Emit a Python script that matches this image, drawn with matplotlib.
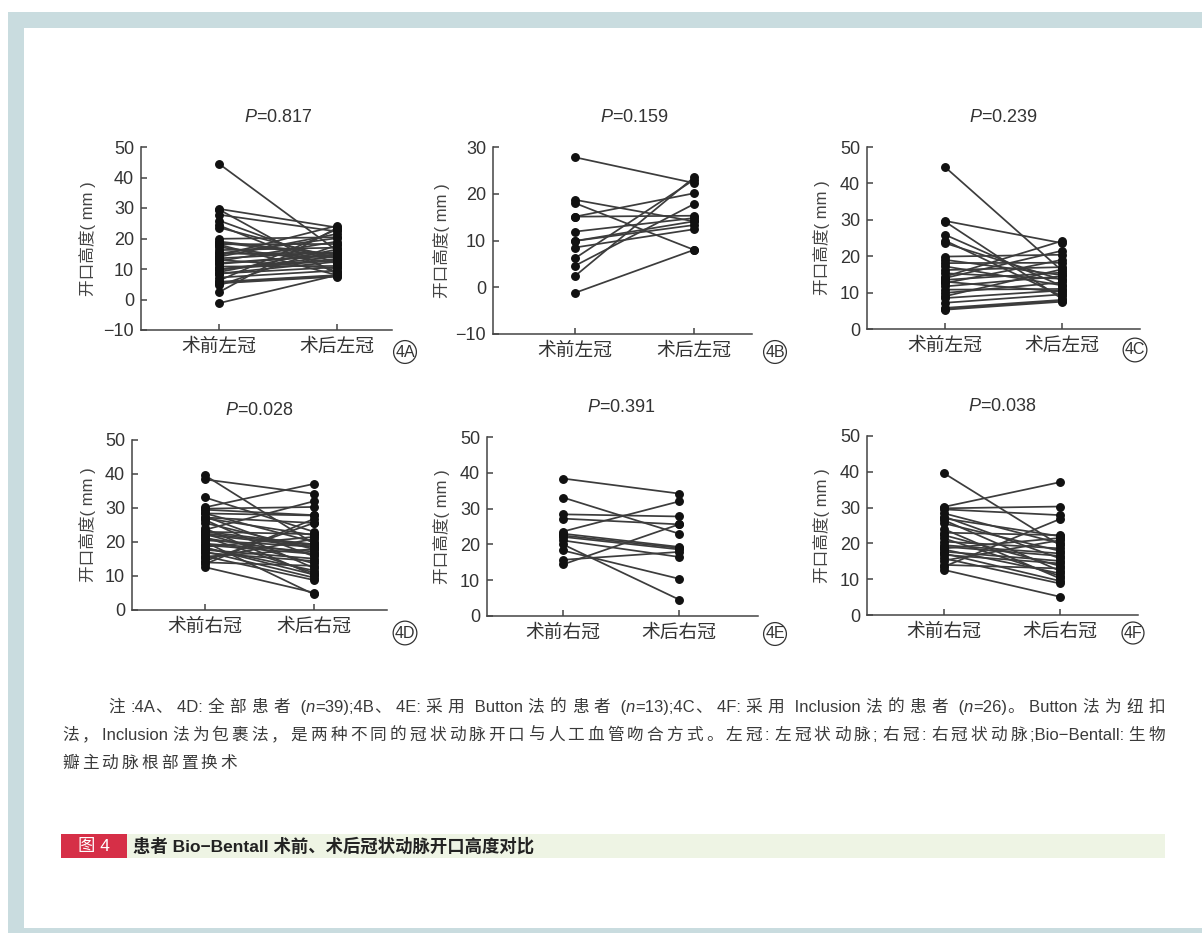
import matplotlib
matplotlib.use("Agg")
import matplotlib.pyplot as plt
from matplotlib.patches import Rectangle
from matplotlib.transforms import IdentityTransform

plt.rcParams['font.family'] = ['Liberation Sans', 'Noto Sans CJK SC']
plt.rcParams['mathtext.fontset'] = 'custom'
plt.rcParams['mathtext.rm'] = 'Liberation Sans'
plt.rcParams['mathtext.it'] = 'Liberation Sans:italic'

# 开口高度 (mm), 每位患者术前 / 术后
a_pre = [27.8, 18.7, 18.0, 15.1, 15.1, 11.9, 9.9, 8.5, 6.2, 4.6, 2.4, -1.2, 9.9,
         44.5, 29.7, 29.5, 25.9, 24.3, 23.6, 19.9, 19.0, 18.1, 17.2, 16.2, 15.3, 14.4,
         13.5, 13.0, 12.6, 11.7, 10.8, 9.9, 9.0, 8.5, 7.2, 5.8, 5.5, 5.3, 14.0]
a_post = [22.3, 14.1, 8.0, 20.1, 15.3, 14.8, 13.3, 12.4, 23.0, 17.8, 23.5, 8.0, 14.1,
          16.0, 23.6, 8.3, 11.8, 9.0, 13.5, 20.4, 14.8, 18.2, 12.0, 17.0, 13.8, 24.2,
          15.5, 10.2, 19.0, 14.5, 11.0, 12.8, 16.4, 10.6, 9.5, 8.0, 7.8, 7.5, 21.5]

b_pre = [27.8, 18.7, 18.0, 15.1, 15.1, 11.9, 9.9, 8.5, 6.2, 4.6, 2.4, -1.2, 9.9]
b_post = [22.3, 14.1, 8.0, 20.1, 15.3, 14.8, 13.3, 12.4, 23.0, 17.8, 23.5, 8.0, 14.1]

c_pre = [44.5, 29.7, 29.5, 25.9, 24.3, 23.6, 19.9, 19.0, 18.1, 17.2, 16.2, 15.3, 14.4,
         13.5, 13.0, 12.6, 11.7, 10.8, 9.9, 9.0, 8.5, 7.2, 5.8, 5.5, 5.3, 14.0]
c_post = [16.0, 23.6, 8.3, 11.8, 9.0, 13.5, 20.4, 14.8, 18.2, 12.0, 17.0, 13.8, 24.2,
          15.5, 10.2, 19.0, 14.5, 11.0, 12.8, 16.4, 10.6, 9.5, 8.0, 7.8, 7.5, 21.5]

d_pre = [38.4, 33.1, 28.4, 27.2, 23.6, 23.0, 22.1, 21.1, 20.0, 18.3, 15.7, 14.4, 22.5,
         39.6, 30.2, 29.8, 29.5, 28.4, 27.5, 26.5, 25.6, 23.0, 22.3, 21.4, 20.5, 19.1,
         18.6, 18.3, 17.7, 17.2, 16.8, 15.8, 15.2, 14.0, 13.5, 12.6, 19.5, 24.0, 27.0]
d_post = [34.2, 23.0, 27.8, 25.6, 32.0, 19.3, 18.6, 16.5, 4.6, 10.4, 17.9, 25.6, 19.0,
          19.5, 37.1, 30.3, 27.9, 20.0, 15.8, 12.3, 17.9, 22.3, 13.7, 10.9, 18.6, 16.5,
          21.5, 11.6, 15.1, 9.5, 14.4, 8.8, 20.9, 13.0, 26.8, 5.1, 17.2, 10.2, 22.0]

e_pre = [38.4, 33.1, 28.4, 27.2, 23.6, 23.0, 22.1, 21.1, 20.0, 18.3, 15.7, 14.4, 22.5]
e_post = [34.2, 23.0, 27.8, 25.6, 32.0, 19.3, 18.6, 16.5, 4.6, 10.4, 17.9, 25.6, 19.0]

f_pre = [39.6, 30.2, 29.8, 29.5, 28.4, 27.5, 26.5, 25.6, 23.0, 22.3, 21.4, 20.5, 19.1,
         18.6, 18.3, 17.7, 17.2, 16.8, 15.8, 15.2, 14.0, 13.5, 12.6, 19.5, 24.0, 27.0]
f_post = [19.5, 37.1, 30.3, 27.9, 20.0, 15.8, 12.3, 17.9, 22.3, 13.7, 10.9, 18.6, 16.5,
          21.5, 11.6, 15.1, 9.5, 14.4, 8.8, 20.9, 13.0, 26.8, 5.1, 17.2, 10.2, 22.0]

pre_all = [a_pre, b_pre, c_pre, d_pre, e_pre, f_pre]
post_all = [a_post, b_post, c_post, d_post, e_post, f_post]
p_values = ['0.817', '0.159', '0.239', '0.028', '0.391', '0.038']
tags = ['4A', '4B', '4C', '4D', '4E', '4F']
left_cats = ['术前左冠', '术后左冠']
right_cats = ['术前右冠', '术后右冠']
y_ranges = [(-10, 50), (-10, 30), (0, 50), (0, 50), (0, 50), (0, 50)]
ylabel = '开口高度( mm )'

# 版面 (像素): 坐标框, 两类别的 x, y 轴标题 x, 角标位置
W, H = 1202, 933
boxes = [(141, 147, 392, 330), (493, 147, 752, 334), (867, 147, 1140, 329),
         (132, 440, 387, 610), (487, 437, 758, 616), (867, 436, 1138, 615)]
cat_px = [(219, 337), (575, 694), (945, 1062), (205, 314), (563, 679), (944, 1060)]
ylab_px = [88, 442, 822, 88, 442, 822]
tag_px = [(405, 352), (775, 352), (1135, 350), (405, 633), (775, 634), (1133, 633)]

ink = '#333333'
fig = plt.figure(figsize=(W / 100, H / 100), dpi=100)

# 页面边框
band = '#c9dcdf'
for x0, y0, w, h in [(8, 12, W - 8, 16), (8, 12, 16, H - 12), (8, 928, W - 8, 5)]:
    fig.patches.append(Rectangle((x0 / W, 1 - (y0 + h) / H), w / W, h / H,
                                 transform=fig.transFigure, color=band, lw=0))

for i in range(6):
    l, t, r, b = boxes[i]
    ax = fig.add_axes([l / W, 1 - b / H, (r - l) / W, (b - t) / H])
    pre, post = pre_all[i], post_all[i]
    for y0, y1 in zip(pre, post):
        ax.plot([0, 1], [y0, y1], color='#3c3c3c', lw=1.25, zorder=2)
    ax.plot([0] * len(pre), pre, 'o', color='#111111', ms=5.4, zorder=3)
    ax.plot([1] * len(post), post, 'o', color='#111111', ms=5.4, zorder=3)

    c0, c1 = cat_px[i]
    ax.set_xlim((l - c0) / (c1 - c0), (r - c0) / (c1 - c0))
    lo, hi = y_ranges[i]
    ax.set_ylim(lo, hi)
    ax.set_yticks(range(lo, hi + 1, 10))
    ax.set_xticks([0, 1])
    ax.set_xticklabels(left_cats if i < 3 else right_cats, fontsize=13.5, color=ink)
    ax.tick_params(axis='y', direction='in', length=4, width=1.1, pad=5,
                   labelsize=13, labelcolor=ink, color='#444444')
    ax.tick_params(axis='x', direction='in', length=4, width=1.1, pad=6, color='#444444')
    for s in ['top', 'right']:
        ax.spines[s].set_visible(False)
    for s in ['left', 'bottom']:
        ax.spines[s].set_color('#444444')
        ax.spines[s].set_linewidth(1.1)
    ax.set_facecolor('none')

    ax.set_ylabel(ylabel, fontsize=12, color='#444444', va='center')
    ax.yaxis.set_label_coords((ylab_px[i] - l) / (r - l), 0.5)

    ax.annotate('$P$=' + p_values[i], xy=(0.5, 1), xycoords=('data', 'axes fraction'),
                xytext=(0, 21), textcoords='offset points', ha='center', va='center',
                fontsize=13, color=ink)

    tx, ty = tag_px[i]
    fig.text(tx / W, 1 - ty / H, tags[i], ha='center', va='center', fontsize=11.5,
             color=ink, bbox=dict(boxstyle='circle,pad=0.1', fc='white', ec=ink, lw=0.9))

# 注释 (两端对齐, 额外间距只加在中文字符之后)
renderer = fig.canvas.get_renderer()


def chunks(runs):
    out = []
    for s, style in runs:
        buf = ''
        for ch in s:
            if ord(ch) < 0x2E80:
                buf += ch
            else:
                if buf:
                    out.append((buf, style, False))
                    buf = ''
                out.append((ch, style, True))
        if buf:
            out.append((buf, style, False))
    return out


def draw_runs(x, y, runs, right=None, gap=None, size=12):
    parts = chunks(runs)
    texts = []
    for s, style, wide in parts:
        t = fig.text(0, H - y, s, transform=IdentityTransform(), fontsize=size,
                     fontstyle=style, color='#3a3a3a', va='baseline', ha='left')
        texts.append((t, t.get_window_extent(renderer).width, wide))
    n_wide = sum(1 for _, _, w in texts if w)
    if gap is None:
        gap = (right - x - sum(w for _, w, _ in texts)) / max(n_wide - 1, 1)
    for t, w, wide in texts:
        t.set_x(x)
        x += w + (gap if wide else 0)
    return gap


note1 = [('注:4A、4D: 全部患者 (', 'normal'), ('n', 'italic'),
         ('=39);4B、4E: 采用 Button 法的患者 (', 'normal'), ('n', 'italic'),
         ('=13);4C、4F: 采用 Inclusion 法的患者 (', 'normal'), ('n', 'italic'),
         ('=26)。Button 法为纽扣', 'normal')]
note2 = [('法，Inclusion 法为包裹法，是两种不同的冠状动脉开口与人工血管吻合方式。'
          '左冠: 左冠状动脉; 右冠: 右冠状动脉;Bio−Bentall: 生物', 'normal')]
note3 = [('瓣主动脉根部置换术', 'normal')]
draw_runs(108, 712, note1, right=1165)
g = draw_runs(62, 740, note2, right=1165)
draw_runs(62, 768, note3, gap=g)

# 图题栏
fig.patches.append(Rectangle((61 / W, 1 - 858 / H), 66 / W, 24 / H,
                             transform=fig.transFigure, color='#d62f47', lw=0))
fig.patches.append(Rectangle((127 / W, 1 - 858 / H), 1038 / W, 24 / H,
                             transform=fig.transFigure, color='#eef4e4', lw=0))
fig.text(94 / W, 1 - 846 / H, '图 4', ha='center', va='center', fontsize=12.5,
         color='white')
fig.text(133 / W, 1 - 846 / H, '患者 Bio−Bentall 术前、术后冠状动脉开口高度对比',
         ha='left', va='center', fontsize=12.5, fontweight='semibold', color='#222222')

fig.savefig('out.png', dpi=100, facecolor='white')
